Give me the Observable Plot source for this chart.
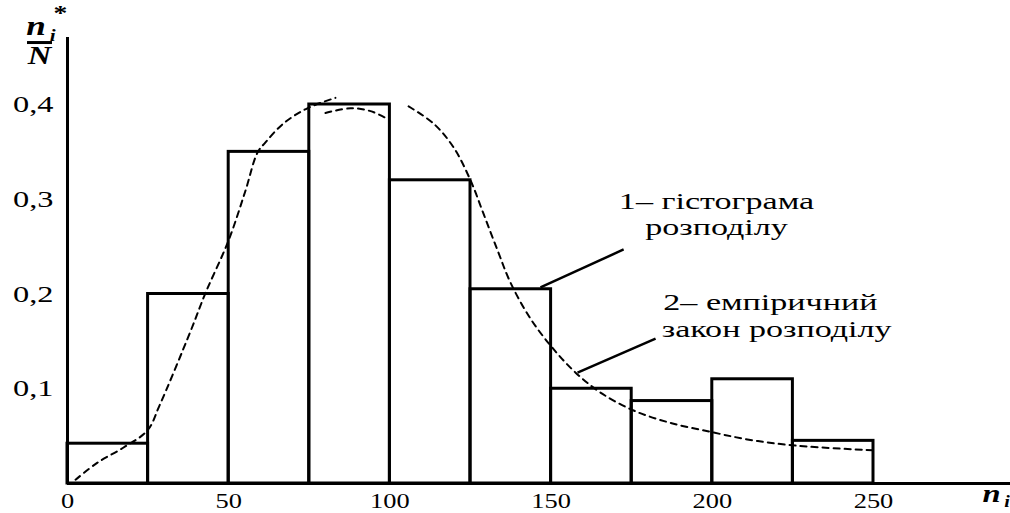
<!DOCTYPE html>
<html><head><meta charset="utf-8">
<script src="https://cdn.jsdelivr.net/npm/d3@7"></script>
<script src="https://cdn.jsdelivr.net/npm/@observablehq/plot@0.6"></script>
<style>
body{margin:0;background:#fff}
#chart svg, #chart svg text { font-family: "Liberation Serif", "DejaVu Serif", serif !important; }
</style>
</head><body><div id="chart"></div>
<script>
// Histogram bins and relative frequencies n_i*/N
const binStart = [0, 25, 50, 75, 100, 125, 150, 175, 200, 225];
const binEnd   = [25, 50, 75, 100, 125, 150, 175, 200, 225, 250];
const freq     = [0.042, 0.20, 0.35, 0.40, 0.32, 0.205, 0.10, 0.087, 0.11, 0.045];

const curveX = [2.5, 9.3, 17.4, 24.8, 28.5, 38.2, 42.8, 49.9, 55.2, 58.9, 61.4, 67.0, 74.4, 83.1,
                80.0, 87.8, 94.0, 98.6,
                105.8, 113.5, 119.7, 125.0, 129.0, 133.4, 137.4, 143.6, 150.7, 157.6, 165.3, 175.6, 187.0, 200.1, 211.8, 225.8, 250.0];
const curveY = [0.004, 0.022, 0.038, 0.056, 0.082, 0.161, 0.201, 0.256, 0.309, 0.349, 0.360, 0.380, 0.396, 0.407,
                0.391, 0.396, 0.393, 0.386,
                0.398, 0.380, 0.355, 0.320, 0.285, 0.246, 0.212, 0.174, 0.142, 0.117, 0.096, 0.077, 0.064, 0.054, 0.046, 0.040, 0.035];
const curveSeg = [1,1,1,1,1,1,1,1,1,1,1,1,1,1, 2,2,2,2, 3,3,3,3,3,3,3,3,3,3,3,3,3,3,3,3,3];

const xTicks = [0, 50, 100, 150, 200, 250];
const xTickLabels = ["0", "50", "100", "150", "200", "250"];
const yTicks = [0.1, 0.2, 0.3, 0.4];
const yTickLabels = ["0,1", "0,2", "0,3", "0,4"];

const label1 = ["1– гістограма", "розподілу"];
const label2 = ["2– емпіричний", "закон розподілу"];

const bins = binStart.map((s, i) => ({x1: s, x2: binEnd[i], f: freq[i]}));
const curve = curveX.map((x, i) => ({x, y: curveY[i], seg: curveSeg[i]}));

const serif = "Liberation Serif";

const svg = Plot.plot({
  width: 1010,
  height: 513,
  marginLeft: 67,
  marginRight: 137,
  marginTop: 104,
  marginBottom: 30,
  style: {fontFamily: serif, background: "white", color: "black"},
  x: {domain: [0, 250]},
  y: {domain: [0, 0.4]},
  marks: [
    Plot.rect(bins, {x1: "x1", x2: "x2", y1: 0, y2: "f", fill: "none", stroke: "black", strokeWidth: 3}),
    Plot.line(curve, {x: "x", y: "y", z: "seg", curve: "catmull-rom", stroke: "black", strokeWidth: 2, strokeDasharray: "6,5"}),
    Plot.ruleX([0], {y1: 0, y2: 0.4707, stroke: "black", strokeWidth: 3}),
    Plot.ruleY([0], {x1: 0, x2: 293, stroke: "black", strokeWidth: 3}),
    Plot.axisX({ticks: xTicks, tickFormat: (d, i) => xTickLabels[i], tickSize: 0, tickPadding: 9, fontSize: 22, fontFamily: serif, label: null}),
    Plot.axisY({ticks: yTicks, tickFormat: (d, i) => yTickLabels[i], tickSize: 0, tickPadding: 14, fontSize: 24, fontFamily: serif, label: null}),
    // leader lines
    Plot.link([{a: 146.7, b: 0.207, c: 172.5, d: 0.247}, {a: 158.2, b: 0.117, c: 182.4, d: 0.153}],
      {x1: "a", y1: "b", x2: "c", y2: "d", stroke: "black", strokeWidth: 2.5}),
    // annotation texts
    Plot.text([label1[0]], {x: 201.3, y: 0.290, text: d => d, textAnchor: "middle", lineAnchor: "bottom", fontSize: 24, fontFamily: serif, ariaDescription: "annot"}),
    Plot.text([label1[1]], {x: 201.3, y: 0.262, text: d => d, textAnchor: "middle", lineAnchor: "bottom", fontSize: 24, fontFamily: serif, ariaDescription: "annot"}),
    Plot.text([label2[0]], {x: 184.8, y: 0.183, text: d => d, textAnchor: "start", lineAnchor: "bottom", fontSize: 24, fontFamily: serif, ariaDescription: "annot"}),
    Plot.text([label2[1]], {x: 184.3, y: 0.155, text: d => d, textAnchor: "start", lineAnchor: "bottom", fontSize: 24, fontFamily: serif, ariaDescription: "annot"}),
    // y axis title: n_i* / N
    Plot.text(["n"], {x: -9.8, y: 0.473, text: d => d, lineAnchor: "bottom", fontSize: 28, fontWeight: "bold", fontStyle: "italic", fontFamily: serif, ariaDescription: "sym"}),
    Plot.text(["i"], {x: -4.6, y: 0.4675, text: d => d, lineAnchor: "bottom", fontSize: 17, fontWeight: "bold", fontStyle: "italic", fontFamily: serif, ariaDescription: "sym"}),
    Plot.text(["*"], {x: -2.2, y: 0.489, text: d => d, lineAnchor: "bottom", fontSize: 22, fontWeight: "bold", fontFamily: serif, ariaDescription: "sym"}),
    Plot.ruleY([0.4654], {x1: -12.4, x2: -4.65, stroke: "black", strokeWidth: 3}),
    Plot.text(["N"], {x: -8.7, y: 0.443, text: d => d, lineAnchor: "bottom", fontSize: 26, fontWeight: "bold", fontStyle: "italic", fontFamily: serif, ariaDescription: "sym"}),
    // x axis title: n_i
    Plot.text(["n"], {x: 286.6, y: -0.020, text: d => d, lineAnchor: "bottom", fontSize: 26, fontWeight: "bold", fontStyle: "italic", fontFamily: serif, ariaDescription: "sym"}),
    Plot.text(["i"], {x: 291.4, y: -0.025, text: d => d, lineAnchor: "bottom", fontSize: 16, fontWeight: "bold", fontStyle: "italic", fontFamily: serif, ariaDescription: "sym"})
  ]
});

document.getElementById("chart").appendChild(svg);

function stretch(sel, f) {
  svg.querySelectorAll(sel).forEach(t => {
    const w = t.getComputedTextLength();
    t.setAttribute("textLength", (w * f).toFixed(1));
    t.setAttribute("lengthAdjust", "spacingAndGlyphs");
  });
}
stretch('g[aria-label="x-axis tick label"] text', 1.2);
stretch('g[aria-label="y-axis tick label"] text', 1.35);
stretch('g[aria-description="annot"] text', 1.42);
stretch('g[aria-description="sym"] text', 1.25);
</script>
</body></html>
